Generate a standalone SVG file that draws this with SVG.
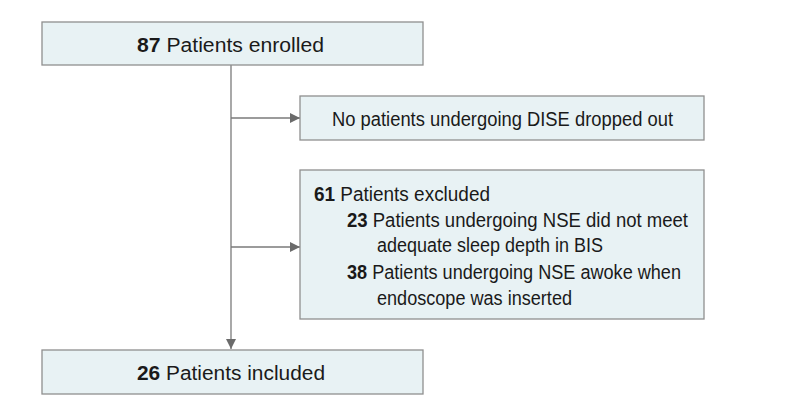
<svg xmlns="http://www.w3.org/2000/svg" width="794" height="416" viewBox="0 0 794 416">
<defs>
<marker id="ah" viewBox="0 0 10 10" refX="10" refY="5" markerWidth="10" markerHeight="10" markerUnits="userSpaceOnUse" orient="auto">
<path d="M0,0 L10,5 L0,10 Z" fill="#6b6b6b"/>
</marker>
<style>
.box{fill:#e8f2f4;stroke:#8f8f8f;stroke-width:1.3}
.t{font-family:"Liberation Sans","Open Sans",sans-serif;font-size:20px;fill:#1a1a1a}
.b{font-weight:bold}
.c{fill:none;stroke:#7a7a7a;stroke-width:1.3}
</style>
</defs>
<rect width="794" height="416" fill="#ffffff"/>
<g id="connectors">
<line class="c" x1="231" y1="65" x2="231" y2="349" marker-end="url(#ah)"/>
<line class="c" x1="231" y1="118" x2="300" y2="118" marker-end="url(#ah)"/>
<line class="c" x1="231" y1="247" x2="300" y2="247" marker-end="url(#ah)"/>
</g>
<g id="enrolled">
<rect class="box" x="42" y="22" width="381" height="43"/>
<text class="t" x="137" y="52" textLength="187" lengthAdjust="spacingAndGlyphs"><tspan class="b">87</tspan>  Patients enrolled</text>
</g>
<g id="dropout">
<rect class="box" x="300" y="96" width="404" height="44"/>
<text class="t" x="332" y="126" textLength="341" lengthAdjust="spacingAndGlyphs">No patients undergoing DISE dropped out</text>
</g>
<g id="excluded">
<rect class="box" x="300" y="170" width="404" height="149"/>
<text class="t" x="314" y="201" textLength="176" lengthAdjust="spacingAndGlyphs"><tspan class="b">61</tspan> Patients excluded</text>
<text class="t" x="347" y="227" textLength="341" lengthAdjust="spacingAndGlyphs"><tspan class="b">23</tspan> Patients undergoing NSE did not meet</text>
<text class="t" x="377" y="252" textLength="226" lengthAdjust="spacingAndGlyphs">adequate sleep depth in BIS</text>
<text class="t" x="347" y="279" textLength="334" lengthAdjust="spacingAndGlyphs"><tspan class="b">38</tspan> Patients undergoing NSE awoke when</text>
<text class="t" x="377" y="305" textLength="195" lengthAdjust="spacingAndGlyphs">endoscope was inserted</text>
</g>
<g id="included">
<rect class="box" x="42" y="350" width="381" height="44"/>
<text class="t" x="137" y="380" textLength="188" lengthAdjust="spacingAndGlyphs"><tspan class="b">26</tspan>  Patients included</text>
</g>
</svg>
